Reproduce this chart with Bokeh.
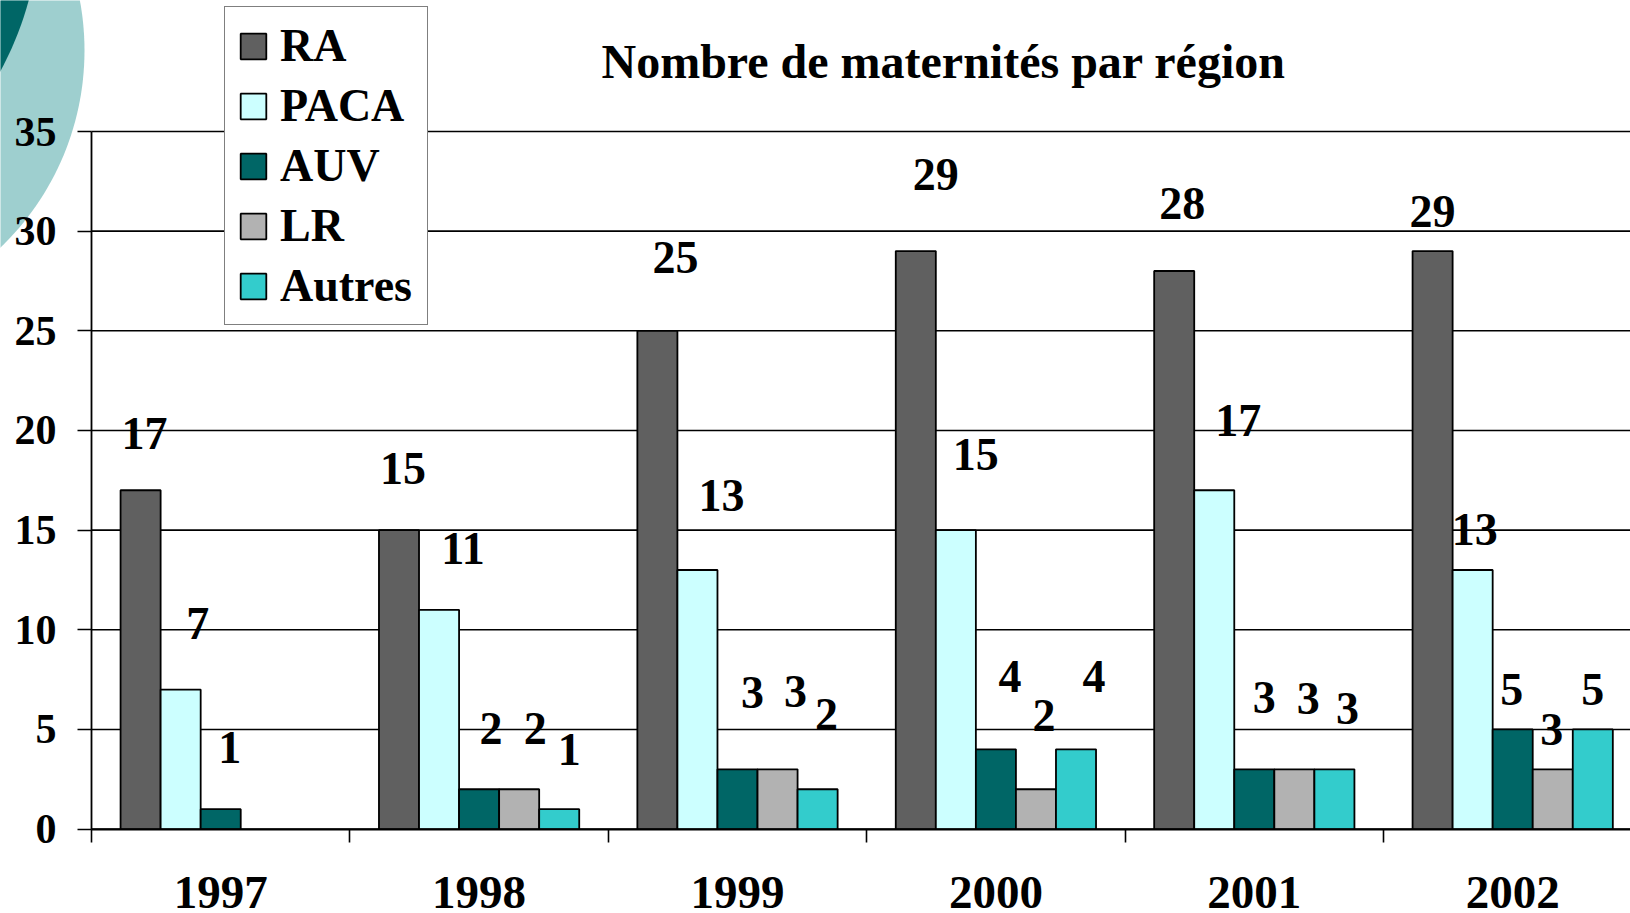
import numpy as np
from bokeh.plotting import figure
from bokeh.models import (ColumnDataSource, Range1d, FixedTicker, Legend, LegendItem,
                          PolyAnnotation, Label)
from bokeh.transform import dodge
from bokeh.core.properties import value
from bokeh.embed import file_html
from bokeh.resources import INLINE

# ---------------- data ----------------
years = ["1997", "1998", "1999", "2000", "2001", "2002"]
regions = ["RA", "PACA", "AUV", "LR", "Autres"]
ra = [17, 15, 25, 29, 28, 29]
paca = [7, 11, 13, 15, 17, 13]
auv = [1, 2, 3, 4, 3, 5]
lr = [None, 2, 3, 2, 3, 3]
autres = [None, 1, 2, 4, 3, 5]
y_ticks = [0, 5, 10, 15, 20, 25, 30, 35]
title_text = "Nombre de maternités par région"

# ---------------- style ----------------
colors = ["#606060", "#CCFFFF", "#006666", "#B2B2B2", "#33CCCC"]
# pixel offsets of the value labels from the top centre of each bar
label_dx = [[4, 4, 18, 20, 8, 0],
            [17, 24, 24, 20, 24, 2],
            [9, 12, 15, 14, 10, -1],
            [0, 16, 18, 8, 14, -1],
            [0, 10, 9, 18, 13, 0]]
label_dy = [[57, 62, 73, 77, 68, 40],
            [66, 61, 74, 76, 70, 40],
            [62, 61, 77, 73, 72, 40],
            [0, 61, 78, 74, 71, 40],
            [0, 60, 75, 73, 61, 40]]
FONT = "Liberation Serif"
W, H = 1630, 913
AX_X = 91.0       # canvas x of the value axis
ZERO_Y = 828.6    # canvas y of value 0
TOP_Y = 131.0     # canvas y of value 35
CAT_PX = 258.4    # width of one year group
BAR_W = 0.155

ppu = (ZERO_Y - TOP_Y) / 35.0
x_rng = Range1d(-AX_X / CAT_PX, (W - AX_X) / CAT_PX)
y_rng = Range1d(-(H - ZERO_Y) / ppu, 35.0 + TOP_Y / ppu)

p = figure(width=W, height=H, x_range=x_rng, y_range=y_rng, output_backend="svg",
           toolbar_location=None, min_border=0, min_border_left=0, min_border_right=0,
           min_border_top=0, min_border_bottom=0)
p.title.visible = False
p.outline_line_color = None
p.background_fill_color = "white"
p.border_fill_color = "white"

# slide decoration (two discs in the top-left corner), screen units
def disc(cx, cy, r):
    t = np.linspace(0, 2 * np.pi, 240)
    return list(cx + r * np.cos(t)), list(H - (cy + r * np.sin(t)))

for (cx, cy, r, col) in [(-189, 50, 273, "#9ECFCF"), (-294, -88, 334, "#006666")]:
    xs, ys = disc(cx, cy, r)
    p.add_layout(PolyAnnotation(xs=xs, ys=ys, xs_units="screen", ys_units="screen",
                                fill_color=col, fill_alpha=1, line_color=None, level="image"))

# horizontal grid lines, from the value axis to the right edge
n = len(years)
p.segment(x0=[0] * len(y_ticks), x1=[x_rng.end] * len(y_ticks), y0=y_ticks, y1=y_ticks,
          line_color="black", line_width=1.6, level="underlay")

# bars + value labels
series_vals = [ra, paca, auv, lr, autres]
x_center = [i + 0.5 for i in range(n)]
renderers = []
for k, (name, vals, col) in enumerate(zip(regions, series_vals, colors)):
    off = (k - 2) * BAR_W
    src = ColumnDataSource(dict(x=x_center,
                                top=[np.nan if v is None else v for v in vals]))
    r = p.vbar(x=dodge("x", off, range=p.x_range), top="top", bottom=0, width=BAR_W,
               source=src, fill_color=col, line_color="black", line_width=1.8)
    renderers.append(r)
    idx = [i for i, v in enumerate(vals) if v is not None]
    lsrc = ColumnDataSource(dict(x=[x_center[i] for i in idx],
                                 y=[vals[i] for i in idx],
                                 t=[str(vals[i]) for i in idx],
                                 dx=[label_dx[k][i] for i in idx],
                                 dy=[-label_dy[k][i] for i in idx]))
    p.text(x=dodge("x", off, range=p.x_range), y="y", text="t", x_offset="dx", y_offset="dy",
           source=lsrc, text_align="center", text_baseline="middle",
           text_font=value(FONT), text_font_style="bold", text_font_size="46px",
           text_color="black")

# legend
legend = Legend(items=[LegendItem(label=nm, renderers=[r]) for nm, r in zip(regions, renderers)],
                location=(224, 588), orientation="vertical",
                label_text_font=FONT, label_text_font_style="bold", label_text_font_size="46px",
                label_text_color="black", glyph_width=32, glyph_height=32, label_standoff=11,
                padding=12, spacing=7, label_height=40, label_width=135, margin=0,
                border_line_color="black", border_line_width=1.8,
                background_fill_color="white", background_fill_alpha=1.0)
p.add_layout(legend)

# x axis (drawn at y = 0)
xax = p.xaxis[0]
xax.fixed_location = 0
xax.bounds = (0, x_rng.end)
xax.ticker = FixedTicker(ticks=x_center, minor_ticks=list(range(n + 1)))
xax.major_label_overrides = {xc: y for xc, y in zip(x_center, years)}
xax.major_tick_out = 0
xax.major_tick_in = 0
xax.minor_tick_out = 13
xax.minor_tick_in = 0
xax.minor_tick_line_color = "black"
xax.minor_tick_line_width = 1.6
xax.axis_line_color = "black"
xax.axis_line_width = 1.8
xax.major_label_text_font = FONT
xax.major_label_text_font_style = "bold"
xax.major_label_text_font_size = "47px"
xax.major_label_text_color = "black"
xax.major_label_standoff = 35

# y axis (drawn at x = 0)
yax = p.yaxis[0]
yax.fixed_location = 0
yax.ticker = FixedTicker(ticks=y_ticks)
yax.bounds = (0, 35)
yax.major_tick_out = 14
yax.major_tick_in = 0
yax.minor_tick_out = 0
yax.minor_tick_in = 0
yax.major_tick_line_color = "black"
yax.major_tick_line_width = 1.6
yax.axis_line_color = "black"
yax.axis_line_width = 1.8
yax.major_label_text_font = FONT
yax.major_label_text_font_style = "bold"
yax.major_label_text_font_size = "42px"
yax.major_label_text_color = "black"
yax.major_label_standoff = 21

p.xgrid.visible = False
p.ygrid.visible = False

# title
p.add_layout(Label(x=601, y=H - 61, x_units="screen", y_units="screen", text=title_text,
                   text_font=FONT, text_font_style="bold", text_font_size="48px",
                   text_color="black", text_align="left", text_baseline="alphabetic"))

open("out.html", "w").write(file_html(p, INLINE))
